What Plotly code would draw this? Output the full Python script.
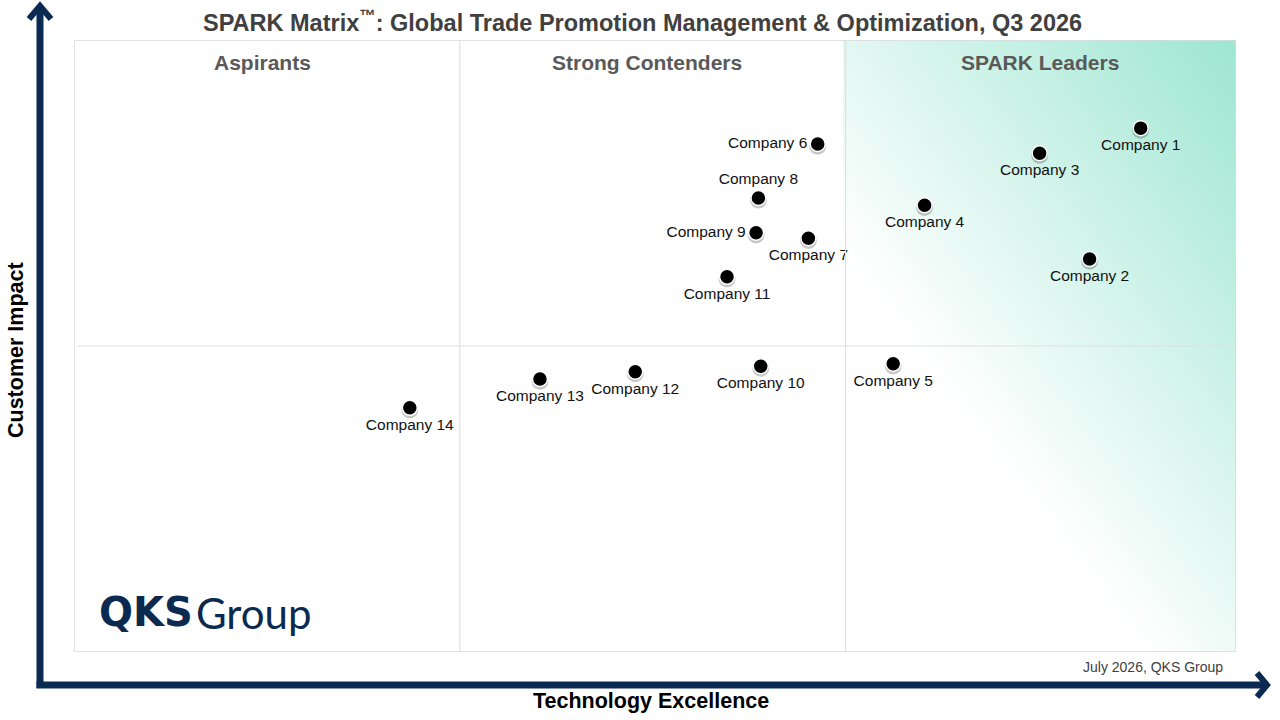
import numpy as np
import plotly.graph_objects as go

# vendor positions (0-100 on both axes)
companies = ["Company 1", "Company 2", "Company 3", "Company 4", "Company 5", "Company 6", "Company 7",
             "Company 8", "Company 9", "Company 10", "Company 11", "Company 12", "Company 13", "Company 14"]
tech_excellence = [91.8, 87.4, 83.1, 73.2, 70.5, 64.0, 63.2, 58.9, 58.7, 59.1, 56.2, 48.3, 40.1, 28.9]
customer_impact = [85.6, 64.2, 81.5, 73.0, 47.1, 83.0, 67.6, 74.2, 68.5, 46.7, 61.3, 45.8, 44.6, 39.9]
label_pos = ["bottom center", "bottom center", "bottom center", "bottom center", "bottom center",
             "middle left", "bottom center", "top center", "middle left", "bottom center",
             "bottom center", "bottom center", "bottom center", "bottom center"]

quadrants = ["Aspirants", "Strong Contenders", "SPARK Leaders"]
quad_x = [16.2, 49.3, 83.1]

NAVY = "#0b2a52"
W, H = 1280, 720
L, R, T, B = 74, 44, 40, 68
pw, ph = W - L - R, H - T - B

def px_to_paper(x, y):
    return (x - L) / pw, (H - B - y) / ph

fig = go.Figure()

# leaders background: diagonal gradient, white toward bottom-left, mint toward top-right
gx = np.linspace(66.4, 100, 80)
gy = np.linspace(0, 100, 120)
XX, YY = np.meshgrid(gx, gy)
tt = (XX - 66.4) * pw / 100 * 0.8 + YY * ph / 100 * 0.6
fig.add_trace(go.Heatmap(x=gx, y=gy, z=tt, zmin=240, zmax=680, zsmooth="best", showscale=False,
                         hoverinfo="skip", colorscale=[[0, "#ffffff"], [1, "#9de6d1"]]))

# soft shadow under the dots
fig.add_trace(go.Scatter(x=tech_excellence, y=[v - 0.35 for v in customer_impact], mode="markers",
                         marker=dict(size=17, color="rgba(0,0,0,0.22)"), hoverinfo="skip", showlegend=False))
fig.add_trace(go.Scatter(x=tech_excellence, y=customer_impact, mode="markers+text", text=companies,
                         textposition=label_pos, textfont=dict(size=15.5, color="#111111"),
                         marker=dict(size=15, color="black", line=dict(color="white", width=1.5)),
                         hoverinfo="text", showlegend=False))

shapes = [
    dict(type="rect", xref="x", yref="y", x0=0, x1=100, y0=0, y1=100,
         line=dict(color="#dadada", width=1.5), layer="above"),
    dict(type="line", xref="x", yref="y", x0=33.2, x1=33.2, y0=0, y1=100, line=dict(color="#e0e0e0", width=1.2)),
    dict(type="line", xref="x", yref="y", x0=66.4, x1=66.4, y0=0, y1=100, line=dict(color="#e0e0e0", width=1.2)),
    dict(type="line", xref="x", yref="y", x0=0.3, x1=100.3, y0=50, y1=50, line=dict(color="#e0e0e0", width=1.2)),
]

# axis arrows drawn in paper space
def path(points):
    pts = [px_to_paper(x, y) for x, y in points]
    return "M " + " L ".join(f"{a:.5f},{b:.5f}" for a, b in pts)

shapes.append(dict(type="path", xref="paper", yref="paper", path=path([(40, 688), (40, 6)]),
                   line=dict(color=NAVY, width=7)))
shapes.append(dict(type="path", xref="paper", yref="paper", path=path([(36.5, 685), (1265, 685)]),
                   line=dict(color=NAVY, width=7)))
shapes.append(dict(type="path", xref="paper", yref="paper", path=path([(29, 19), (40, 6), (51, 19)]),
                   line=dict(color=NAVY, width=6)))
shapes.append(dict(type="path", xref="paper", yref="paper", path=path([(1257, 673), (1267, 685), (1257, 697)]),
                   line=dict(color=NAVY, width=6)))

annotations = []
for q, qx in zip(quadrants, quad_x):
    annotations.append(dict(x=qx, y=96.4, xref="x", yref="y", text=f"<b>{q}</b>", showarrow=False,
                            font=dict(size=21, color="#595959")))

def note(px, py, text, size, color, xanchor="center", **kw):
    ax, ay = px_to_paper(px, py)
    annotations.append(dict(x=ax, y=ay, xref="paper", yref="paper", text=text, showarrow=False,
                            xanchor=xanchor, yanchor="middle", font=dict(size=size, color=color, **kw)))

note(642, 21, "<b>SPARK Matrix<sup>™</sup>: Global Trade Promotion Management & Optimization, Q3 2026</b>",
     23.5, "#404040")
note(16, 350, "<b>Customer Impact</b>", 21.5, "black")
annotations[-1]["textangle"] = -90
note(651, 701, "<b>Technology Excellence</b>", 21.5, "black")
note(1225, 667, "July 2026, QKS Group", 14, "#404040", xanchor="right")
note(97, 612, "<b>QKS</b>", 40, NAVY, xanchor="left", family="DejaVu Sans")
note(194, 613, "Group", 42, NAVY, xanchor="left", family="Lato")

fig.update_layout(
    width=W, height=H, margin=dict(l=L, r=R, t=T, b=B),
    paper_bgcolor="white", plot_bgcolor="white",
    font=dict(family="Liberation Sans, Arial, sans-serif"),
    xaxis=dict(range=[0, 100], visible=False, fixedrange=True),
    yaxis=dict(range=[0, 100], visible=False, fixedrange=True),
    shapes=shapes, annotations=annotations, showlegend=False,
)

fig.write_html("out.html", config={"displayModeBar": False},
               post_script="document.body.style.margin='0';")
